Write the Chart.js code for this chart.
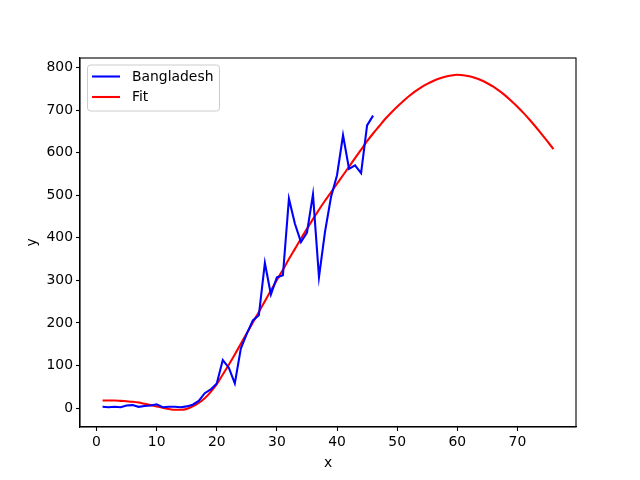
<!DOCTYPE html>
<html>
<head>
<meta charset="utf-8">
<script src="https://cdn.jsdelivr.net/npm/chart.js@4.4.0/dist/chart.umd.min.js"></script>
<style>
  html, body { margin: 0; padding: 0; background: #fff; }
  #wrap { width: 640px; height: 480px; }
</style>
</head>
<body>
<div id="wrap"><canvas id="c" width="640" height="480"></canvas></div>
<script>
// ---- data ----
const dataX = [1,2,3,4,5,6,7,8,9,10,11,12,13,14,15,16,17,18,19,20,21,22,23,24,25,26,27,28,29,30,31,32,33,34,35,36,37,38,39,40,41,42,43,44,45,46];
const bangladesh = [3,2,3,2,6,7,3,5,6,9,2,3,3,2,4,8,17,35,44,58,113,95,58,140,175,206,218,341,267,307,312,492,433,390,412,502,308,414,496,547,641,562,570,552,664,687];

const fitX = [1,2,3,4,5,6,7,8,9,10,11,12,13,14,15,16,17,18,19,20,21,22,23,24,25,26,27,28,29,30,31,32,33,34,35,36,37,38,39,40,41,42,43,44,45,46,47,48,49,50,51,52,53,54,55,56,57,58,59,60,61,62,63,64,65,66,67,68,69,70,71,72,73,74,75,76];
const fitY = [18,18,18,17,16,15,13,10,7,4,
              1,-2,-4,-4,-2,4,12,23,38,56,
              79,102,126,151,176,201,226,251,276,301,
              325,350,374,398,421,444,466,487,507,527,
              547,567,587,607,627,645,662,679,694,708,
              721,733,744,753.5,761.5,768.5,774,778.5,781.5,783,
              782,779.5,775.5,770,763,755,745,734,721.5,708,
              693.5,678,661.5,644,626.5,608.5];

const xTicks = [0,10,20,30,40,50,60,70];
const yTicks = [0,100,200,300,400,500,600,700,800];
const seriesLabels = ['Bangladesh','Fit'];
const seriesColors = ['#0000ff','#ff0000'];
const axisTitles = ['x','y'];

const FONT = 'DejaVu Sans';
const FS = 13.9;
Chart.defaults.color = '#000';
Chart.defaults.font.family = FONT;
Chart.defaults.font.size = FS;

const framePlugin = {
  id: 'frame',
  afterDraw(chart) {
    const {ctx, chartArea: a} = chart;
    ctx.save();
    ctx.strokeStyle = '#000';
    ctx.lineWidth = 1.1;
    ctx.strokeRect(a.left, a.top, a.right - a.left, a.bottom - a.top);
    // legend
    const bx = 87.5, by = 65, bw = 132, bh = 46, r = 3;
    ctx.beginPath();
    ctx.moveTo(bx + r, by);
    ctx.lineTo(bx + bw - r, by);
    ctx.arcTo(bx + bw, by, bx + bw, by + r, r);
    ctx.lineTo(bx + bw, by + bh - r);
    ctx.arcTo(bx + bw, by + bh, bx + bw - r, by + bh, r);
    ctx.lineTo(bx + r, by + bh);
    ctx.arcTo(bx, by + bh, bx, by + bh - r, r);
    ctx.lineTo(bx, by + r);
    ctx.arcTo(bx, by, bx + r, by, r);
    ctx.closePath();
    ctx.fillStyle = 'rgba(255,255,255,0.8)';
    ctx.fill();
    ctx.strokeStyle = '#cccccc';
    ctx.lineWidth = 1;
    ctx.stroke();
    ctx.font = FS + 'px "' + FONT + '"';
    ctx.textBaseline = 'middle';
    ctx.textAlign = 'left';
    chart.data.datasets.forEach((ds, i) => {
      const y = 76.5 + i * 20.5;
      ctx.beginPath();
      ctx.strokeStyle = ds.borderColor;
      ctx.lineWidth = 2.08;
      ctx.moveTo(92, y);
      ctx.lineTo(120, y);
      ctx.stroke();
      ctx.fillStyle = '#000';
      ctx.fillText(ds.label, 132, y + 0.5);
    });
    ctx.restore();
  }
};

new Chart(document.getElementById('c'), {
  type: 'line',
  data: {
    datasets: [
      {
        label: seriesLabels[0],
        data: dataX.map((x, i) => ({x: x, y: bangladesh[i]})),
        borderColor: seriesColors[0],
        backgroundColor: seriesColors[0],
        borderWidth: 2.08,
        pointRadius: 0,
        tension: 0,
        fill: false
      },
      {
        label: seriesLabels[1],
        data: fitX.map((x, i) => ({x: x, y: fitY[i]})),
        borderColor: seriesColors[1],
        backgroundColor: seriesColors[1],
        borderWidth: 2.08,
        pointRadius: 0,
        tension: 0.4,
        cubicInterpolationMode: 'monotone',
        fill: false
      }
    ]
  },
  options: {
    responsive: false,
    animation: false,
    events: [],
    layout: { padding: { top: 58, right: 64, left: 0, bottom: 0 } },
    plugins: { legend: { display: false }, tooltip: { enabled: false } },
    scales: {
      x: {
        type: 'linear',
        min: -2.75,
        max: 79.75,
        afterBuildTicks: (s) => { s.ticks = xTicks.map(v => ({value: v})); },
        afterFit: (s) => { s.height = 53; },
        grid: { drawOnChartArea: false, drawTicks: true, tickLength: 4, color: '#000', tickWidth: 1.1 },
        border: { display: true, color: '#000', width: 1.1 },
        ticks: { padding: 3, maxRotation: 0, autoSkip: false, color: '#000', font: { size: FS, family: FONT } },
        title: { display: true, text: axisTitles[0], color: '#000', font: { size: FS, family: FONT }, padding: { top: 0, bottom: 8 } }
      },
      y: {
        type: 'linear',
        min: -44.4,
        max: 822.4,
        afterBuildTicks: (s) => { s.ticks = yTicks.map(v => ({value: v})); },
        afterFit: (s) => { s.width = 80; },
        grid: { drawOnChartArea: false, drawTicks: true, tickLength: 4, color: '#000', tickWidth: 1.1 },
        border: { display: true, color: '#000', width: 1.1 },
        ticks: { padding: 3, autoSkip: false, color: '#000', font: { size: FS, family: FONT } },
        title: { display: true, text: axisTitles[1], color: '#000', font: { size: FS, family: FONT }, padding: { top: 24, bottom: 0 } }
      }
    }
  },
  plugins: [framePlugin]
});
</script>
</body>
</html>
